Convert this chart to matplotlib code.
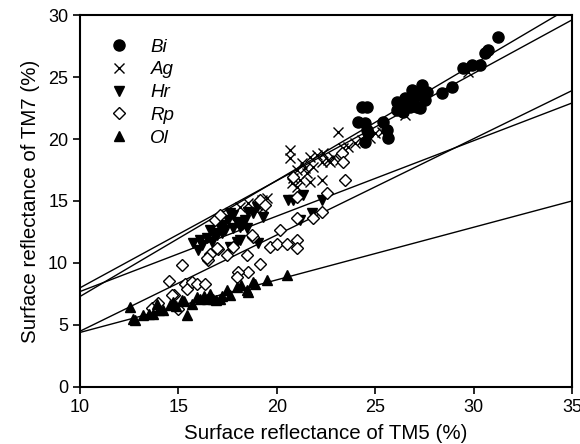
import numpy as np
import matplotlib
matplotlib.use('Agg')
import matplotlib.pyplot as plt

plt.rcParams['font.family'] = ['Liberation Sans', 'DejaVu Sans']

# Bi (filled circle)
bi_x = [24.33, 24.58, 24.13, 24.48, 24.58, 24.63, 24.48, 25.40, 25.60, 25.65,
        26.11, 26.11, 26.51, 26.67, 26.87, 26.92, 26.77, 27.12, 27.38, 27.43,
        27.63, 27.28, 26.26, 28.39, 28.90, 29.46, 29.92, 30.33, 30.58, 30.73,
        31.24, 26.41, 27.17, 27.53]
bi_y = [22.58, 22.58, 21.37, 21.29, 20.73, 20.48, 19.76, 21.37, 20.73, 20.08,
        22.98, 22.34, 23.31, 22.90, 23.95, 23.15, 22.58, 22.58, 24.35, 23.71,
        23.79, 22.50, 22.90, 23.71, 24.19, 25.73, 25.97, 25.97, 26.94, 27.18,
        28.23, 22.18, 23.55, 23.15]

# Ag (x)
ag_x = [20.67, 20.67, 21.03, 20.82, 21.18, 20.77, 21.03, 19.50, 19.25, 18.54,
        18.99, 19.30, 21.43, 23.11, 21.28, 21.69, 22.04, 22.35, 21.53, 21.84,
        22.30, 21.69, 22.30, 22.70, 22.86, 23.36, 23.62, 23.97, 24.33, 24.74,
        25.35, 24.99, 26.51, 29.72, 23.21, 22.60, 18.13]
ag_y = [19.11, 18.47, 17.50, 16.85, 16.69, 16.45, 16.13, 15.24, 15.08, 14.84,
        14.68, 14.44, 17.66, 20.56, 18.06, 18.55, 18.71, 18.87, 17.26, 17.74,
        18.15, 16.53, 16.69, 18.15, 18.55, 19.27, 19.35, 19.68, 19.92, 20.08,
        20.56, 20.48, 21.94, 25.40, 18.31, 18.31, 14.52]

# Hr (filled triangle down)
hr_x = [15.74, 16.00, 16.20, 16.45, 16.71, 16.96, 17.11, 17.01, 17.27, 17.52,
        17.77, 17.98, 17.98, 18.23, 18.38, 17.77, 18.49, 16.10, 16.76, 17.22,
        18.13, 18.54, 18.79, 18.99, 19.30, 19.04, 20.57, 20.82, 21.18, 18.13,
        17.62, 21.33, 22.30, 21.79, 17.62, 17.37, 16.61]
hr_y = [11.61, 11.05, 11.45, 12.02, 11.69, 12.26, 12.90, 13.47, 13.06, 13.47,
        12.82, 11.69, 13.31, 13.06, 13.47, 13.87, 12.82, 11.85, 12.42, 12.42,
        12.90, 14.11, 14.03, 14.52, 13.71, 11.61, 15.08, 15.08, 13.47, 11.85,
        11.29, 15.48, 15.08, 14.03, 14.03, 12.66, 12.66]

# Rp (open diamond)
rp_x = [15.18, 14.52, 14.78, 14.98, 15.34, 15.44, 15.69, 15.95, 16.35, 16.50,
        16.61, 17.01, 17.47, 17.77, 18.49, 18.54, 18.79, 19.15, 19.65, 20.01,
        20.16, 20.52, 13.66, 13.96, 14.67, 16.86, 16.96, 16.45, 18.74, 21.03,
        21.03, 21.03, 19.15, 19.40, 21.03, 18.03, 17.98, 20.82, 23.31, 23.36,
        23.46, 22.55, 22.30, 21.84, 17.11]
rp_y = [9.84, 8.55, 7.42, 6.29, 8.31, 7.90, 8.47, 8.31, 8.31, 10.24,
        10.73, 11.13, 10.65, 11.29, 10.65, 9.27, 12.10, 9.92, 11.29, 11.53,
        12.66, 11.53, 6.37, 6.77, 7.42, 13.47, 11.21, 10.40, 12.26, 11.85,
        11.21, 13.63, 15.08, 14.68, 15.32, 9.27, 8.87, 16.94, 18.87, 18.15,
        16.69, 15.65, 14.11, 13.63, 13.87]

# Ol (filled triangle up)
ol_x = [12.54, 12.69, 13.20, 13.71, 13.91, 14.22, 14.57, 14.73, 15.18, 15.44,
        15.69, 15.95, 16.10, 16.45, 16.76, 17.11, 17.47, 17.98, 18.49, 18.54,
        18.79, 19.50, 20.52, 12.79, 13.50, 14.00, 14.90, 15.30, 16.30, 16.60,
        16.90, 17.20, 17.60, 18.20, 18.90]
ol_y = [6.45, 5.48, 5.81, 5.89, 6.69, 6.21, 6.61, 6.85, 7.02, 5.81,
        6.69, 7.26, 7.10, 7.10, 7.10, 7.10, 7.82, 8.06, 7.82, 7.66,
        8.47, 8.63, 9.03, 5.40, 5.90, 6.20, 6.50, 6.90, 7.30, 7.50,
        7.00, 7.30, 7.40, 8.20, 8.30]

# regression lines y = a + b*x
names = ['Bi', 'Ag', 'Hr', 'Rp', 'Ol']
fit_a = [-2.06, -0.64, 1.62, -3.26, 0.16]
fit_b = [0.936, 0.864, 0.608, 0.776, 0.424]

fig = plt.figure(figsize=(5.8, 4.44), dpi=100)
ax = fig.add_axes([0.138, 0.1284, 0.848, 0.8378])

ax.plot(bi_x, bi_y, 'o', ms=8, mfc='black', mec='black', ls='none', label='Bi')
ax.plot(ag_x, ag_y, 'x', ms=6.5, mew=1.0, color='black', ls='none', label='Ag')
ax.plot(hr_x, hr_y, 'v', ms=7.5, mfc='black', mec='black', ls='none', label='Hr')
ax.plot(rp_x, rp_y, 'D', ms=6, mfc='white', mec='black', mew=1.0, ls='none', label='Rp')
ax.plot(ol_x, ol_y, '^', ms=7.5, mfc='black', mec='black', ls='none', label='Ol')

xx = np.array([10, 35])
for a, b in zip(fit_a, fit_b):
    ax.plot(xx, a + b * xx, color='black', lw=1.0, zorder=1)

ax.set_xlim(10, 35)
ax.set_ylim(0, 30)
ax.set_xticks([10, 15, 20, 25, 30, 35])
ax.set_yticks([0, 5, 10, 15, 20, 25, 30])
ax.tick_params(direction='out', length=5, width=1.2, labelsize=13, colors='black')
for s in ax.spines.values():
    s.set_linewidth(1.5)

ax.set_xlabel('Surface reflectance of TM5 (%)', fontsize=14.8, labelpad=6)
ax.set_ylabel('Surface reflectance of TM7 (%)', fontsize=14.8, labelpad=6)

leg = ax.legend(loc='upper left', bbox_to_anchor=(0.025, 0.982), frameon=False,
                handlelength=1.0, handletextpad=1.2, labelspacing=0.3,
                prop={'style': 'italic', 'size': 13.5})

fig.savefig('out.png', dpi=100)
